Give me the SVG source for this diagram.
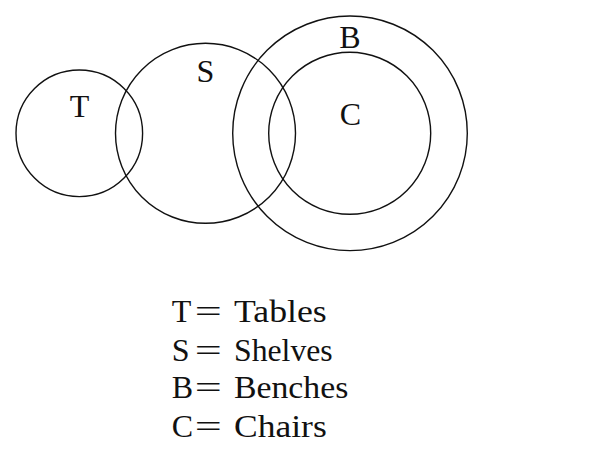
<svg xmlns="http://www.w3.org/2000/svg" width="600" height="462" viewBox="0 0 600 462">
<style>
.c{fill:none;stroke:#111;stroke-width:1.4}
.t{font-family:"Liberation Serif","DejaVu Serif",serif;font-size:32px;fill:#111}
.m{text-anchor:middle}
</style>
<rect width="600" height="462" fill="#fff"/>
<g id="T"><circle class="c" cx="79.3" cy="133.3" r="63.3"/><text class="t m" x="79.5" y="117">T</text></g>
<g id="S"><circle class="c" cx="205.5" cy="133.3" r="90"/><text class="t m" x="205.5" y="81.7">S</text></g>
<g id="B"><circle class="c" cx="350" cy="133.3" r="117.3"/><text class="t m" x="350" y="48.3">B</text></g>
<g id="C"><circle class="c" cx="349.7" cy="133.3" r="81"/><text class="t m" x="350.3" y="125">C</text></g>
<g id="legend">
<text class="t" x="171.7" y="322.3">T</text>
<text class="t m" transform="translate(208.4,322.3) scale(1.5,1)">=</text>
<text class="t" x="234" y="322.3" textLength="92.7" lengthAdjust="spacingAndGlyphs">Tables</text>
<text class="t" x="171.7" y="360.7">S</text>
<text class="t m" transform="translate(208.4,360.7) scale(1.5,1)">=</text>
<text class="t" x="234" y="360.7" textLength="98.7" lengthAdjust="spacingAndGlyphs">Shelves</text>
<text class="t" x="171.7" y="398.3">B</text>
<text class="t m" transform="translate(208.4,398.3) scale(1.5,1)">=</text>
<text class="t" x="234" y="398.3" textLength="114.3" lengthAdjust="spacingAndGlyphs">Benches</text>
<text class="t" x="171.7" y="436.7">C</text>
<text class="t m" transform="translate(208.4,436.7) scale(1.5,1)">=</text>
<text class="t" x="234" y="436.7" textLength="92.7" lengthAdjust="spacingAndGlyphs">Chairs</text>
</g>
<g id="connectors"/>
</svg>
